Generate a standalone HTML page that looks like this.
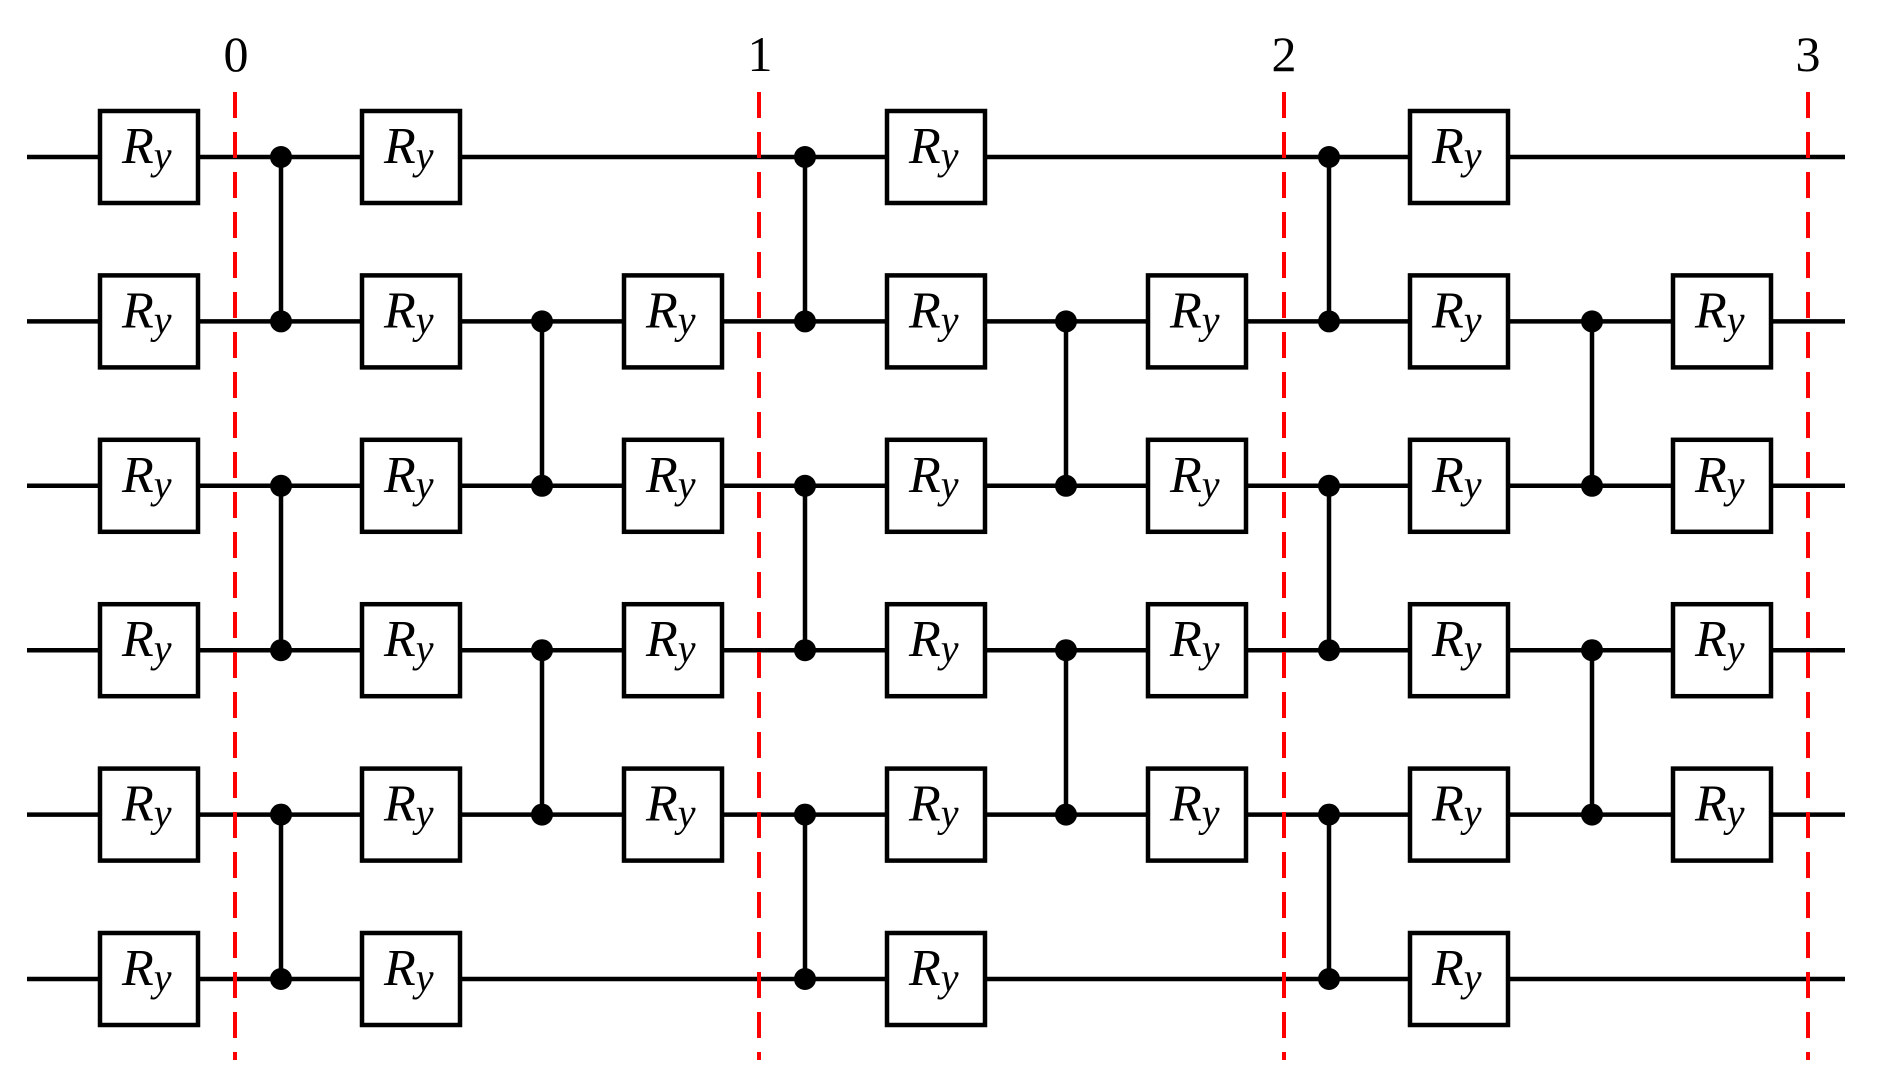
<!DOCTYPE html>
<html><head><meta charset="utf-8"><style>
html,body{margin:0;padding:0;background:#fff;}
svg{display:block;}
text{font-family:"Liberation Serif",serif;}
</style></head><body>
<svg width="1884" height="1081" viewBox="0 0 1884 1081" xmlns="http://www.w3.org/2000/svg">
<g id="wires" stroke="#000" stroke-width="4.5">
<line x1="27" y1="157" x2="1845" y2="157"/>
<line x1="27" y1="321.4" x2="1845" y2="321.4"/>
<line x1="27" y1="485.8" x2="1845" y2="485.8"/>
<line x1="27" y1="650.2" x2="1845" y2="650.2"/>
<line x1="27" y1="814.6" x2="1845" y2="814.6"/>
<line x1="27" y1="979" x2="1845" y2="979"/>
</g>
<g stroke="#ff0000" stroke-width="4" stroke-dasharray="26 14">
<line x1="235" y1="92" x2="235" y2="1060"/>
<line x1="759" y1="92" x2="759" y2="1060"/>
<line x1="1284" y1="92" x2="1284" y2="1060"/>
<line x1="1808" y1="92" x2="1808" y2="1060"/>
</g>
<g font-size="50" text-anchor="middle">
<text x="236" y="71">0</text>
<text x="760" y="71">1</text>
<text x="1284" y="71">2</text>
<text x="1808" y="71">3</text>
</g>
<g id="cz"></g>
<g id="boxes"></g>
</svg>
<script>
const ns="http://www.w3.org/2000/svg";
const rows=[157,321.4,485.8,650.2,814.6,979];
const cols=[[149,[0,1,2,3,4,5]],[411,[0,1,2,3,4,5]],[673,[1,2,3,4]],[936,[0,1,2,3,4,5]],[1197,[1,2,3,4]],[1459,[0,1,2,3,4,5]],[1722,[1,2,3,4]]];
const b=document.getElementById('boxes');
for(const [cx,rs] of cols){for(const r of rs){const y=rows[r];
const rect=document.createElementNS(ns,'rect');
rect.setAttribute('x',cx-49);rect.setAttribute('y',y-46);rect.setAttribute('width',98);rect.setAttribute('height',92);
rect.setAttribute('fill','#fff');rect.setAttribute('stroke','#000');rect.setAttribute('stroke-width','4.5');b.appendChild(rect);
const t=document.createElementNS(ns,'text');t.setAttribute('x',cx-27);t.setAttribute('y',y+6);
t.setAttribute('font-size','52');t.setAttribute('font-style','italic');
t.innerHTML='R<tspan font-size="40" dy="6">y</tspan>';b.appendChild(t);}}
const cz=[[281,[[0,1],[2,3],[4,5]]],[542,[[1,2],[3,4]]],[805,[[0,1],[2,3],[4,5]]],[1066,[[1,2],[3,4]]],[1329,[[0,1],[2,3],[4,5]]],[1592,[[1,2],[3,4]]]];
const c=document.getElementById('cz');
for(const [x,ps] of cz){for(const [a,d] of ps){
const l=document.createElementNS(ns,'line');l.setAttribute('x1',x);l.setAttribute('x2',x);l.setAttribute('y1',rows[a]);l.setAttribute('y2',rows[d]);
l.setAttribute('stroke','#000');l.setAttribute('stroke-width','4.5');c.appendChild(l);
for(const r of [a,d]){const ci=document.createElementNS(ns,'circle');ci.setAttribute('cx',x);ci.setAttribute('cy',rows[r]);ci.setAttribute('r','11');c.appendChild(ci);}}}
</script>
</body></html>
